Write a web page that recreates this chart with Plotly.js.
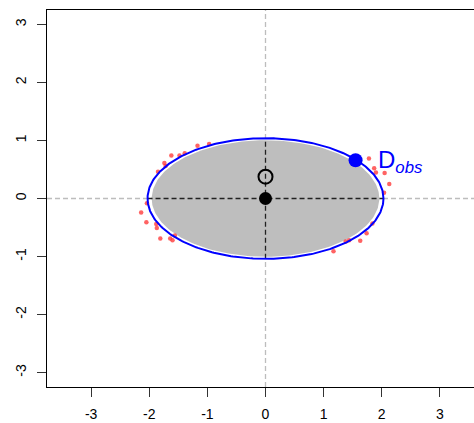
<!DOCTYPE html>
<html>
<head>
<meta charset="utf-8">
<script src="https://cdn.plot.ly/plotly-3.0.1.min.js"></script>
<style>
html,body{margin:0;padding:0;overflow:hidden;background:#fff;}
#chart{width:494px;height:423px;}
</style>
</head>
<body>
<div id="chart"></div>
<script>
// Ellipse (center, radii)
var ellipseCenter = [0, 0];
var ellipseRadii = [2.03, 1.04];
var cloudScale = [0.965];

// Points outside the ellipse (red)
var redX = [-1.85,-1.74,-1.72,-1.62,-1.48,-1.39,-1.17,-0.97,-2.04,-2.14,-2.05,-1.88,-1.87,-1.81,-1.64,-1.60,-1.56,
            1.78,1.87,1.90,2.05,2.13,2.04,1.84,1.74,1.63,1.44,1.38,1.17];
var redY = [0.46,0.61,0.56,0.74,0.74,0.78,0.91,0.94,-0.08,-0.24,-0.41,-0.44,-0.51,-0.69,-0.69,-0.72,-0.64,
            0.69,0.52,0.45,0.44,0.25,0.10,-0.43,-0.60,-0.73,-0.72,-0.74,-0.91];

// Special points
var centerPoint = [0, 0];
var openPoint = [0, 0.376];
var obsPoint = [1.55, 0.66];
var obsLabel = ["D<sub><i>obs</i></sub>"];

var tickVals = [-3,-2,-1,0,1,2,3];
var tickText = ["-3","-2","-1","0","1","2","3"];

function ellipsePath(rx, ry, n){
  var xs=[], ys=[];
  for (var i=0;i<=n;i++){
    var t = 2*Math.PI*i/n;
    xs.push(ellipseCenter[0] + rx*Math.cos(t));
    ys.push(ellipseCenter[1] + ry*Math.sin(t));
  }
  return {x:xs, y:ys};
}
var cloud = ellipsePath(ellipseRadii[0]*cloudScale[0], ellipseRadii[1]*cloudScale[0], 240);
var ell = ellipsePath(ellipseRadii[0], ellipseRadii[1], 360);

var traces = [
  {x:cloud.x, y:cloud.y, mode:'lines', fill:'toself', fillcolor:'#bebebe', line:{width:0, color:'#bebebe'}, hoverinfo:'skip'},
  {x:[-ellipseRadii[0], ellipseRadii[0]], y:[0,0], mode:'lines', line:{color:'#222', width:1.3, dash:'5px,3px'}},
  {x:[0,0], y:[-ellipseRadii[1], ellipseRadii[1]], mode:'lines', line:{color:'#222', width:1.3, dash:'5px,3px'}},
  {x:redX, y:redY, mode:'markers', marker:{color:'rgba(255,60,60,0.8)', size:4.5}},
  {x:ell.x, y:ell.y, mode:'lines', line:{color:'#0000ff', width:2}},
  {x:[openPoint[0]], y:[openPoint[1]], mode:'markers', marker:{symbol:'circle-open', size:14, color:'#000', line:{width:2, color:'#000'}}},
  {x:[centerPoint[0]], y:[centerPoint[1]], mode:'markers', marker:{size:13, color:'#000'}},
  {x:[obsPoint[0]], y:[obsPoint[1]], mode:'markers', marker:{size:14, color:'#0000ff'}}
];

var axisCommon = {
  tickvals: tickVals, ticktext: tickText,
  showgrid:false, zeroline:false,
  showline:true, mirror:true, linecolor:'#000', linewidth:1,
  ticks:'outside', ticklen:9, tickwidth:1, tickcolor:'#333',
  tickfont:{family:'Liberation Sans, Arial, sans-serif', size:14, color:'#000'}
};

var layout = {
  width:494, height:423,
  margin:{l:47, r:10, t:10, b:36},
  paper_bgcolor:'#fff', plot_bgcolor:'#fff',
  showlegend:false,
  xaxis: Object.assign({}, axisCommon, {range:[-3.76,3.76], ticklabelstandoff:5}),
  yaxis: Object.assign({}, axisCommon, {range:[-3.25,3.25], tickangle:-90, ticklabelstandoff:5}),
  shapes:[
    {type:'line', xref:'paper', x0:0, x1:1, yref:'y', y0:0, y1:0, layer:'below', line:{color:'#bdbdbd', width:1.3, dash:'5px,3px'}},
    {type:'line', yref:'paper', y0:0, y1:1, xref:'x', x0:0, x1:0, layer:'below', line:{color:'#bdbdbd', width:1.3, dash:'5px,3px'}}
  ],
  annotations:[
    {x:obsPoint[0]+0.36, y:obsPoint[1]-0.02, xref:'x', yref:'y', text:obsLabel[0], showarrow:false,
     xanchor:'left', yanchor:'middle', font:{family:'Liberation Sans, Arial, sans-serif', size:24, color:'#0000ff'}}
  ]
};

Plotly.newPlot('chart', traces, layout, {displayModeBar:false, staticPlot:true});
</script>
</body>
</html>
